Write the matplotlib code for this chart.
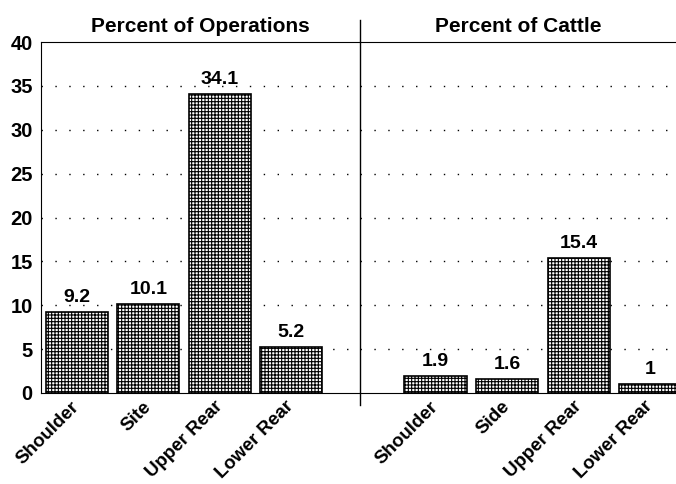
import matplotlib
matplotlib.use("Agg")
import matplotlib.pyplot as plt
from matplotlib.lines import Line2D
from matplotlib.transforms import ScaledTranslation

# data
ops_labels = ["Shoulder", "Site", "Upper Rear", "Lower Rear"]
ops_values = [9.2, 10.1, 34.1, 5.2]
ops_text = ["9.2", "10.1", "34.1", "5.2"]

cattle_labels = ["Shoulder", "Side", "Upper Rear", "Lower Rear"]
cattle_values = [1.9, 1.6, 15.4, 1.0]
cattle_text = ["1.9", "1.6", "15.4", "1"]

yticks = [0, 5, 10, 15, 20, 25, 30, 35, 40]

plt.rcParams['font.family'] = ['Liberation Sans', 'DejaVu Sans']
plt.rcParams['font.weight'] = 'bold'
plt.rcParams['hatch.linewidth'] = 0.8

W, H = 676, 484
fig = plt.figure(figsize=(W / 100, H / 100), dpi=100)

def px(x0, y0, x1, y1):
    return [x0 / W, 1 - y1 / H, (x1 - x0) / W, (y1 - y0) / H]

ax1 = fig.add_axes(px(41, 42, 360, 393))
ax2 = fig.add_axes(px(360, 42, 676, 393))

def draw(ax, labels, values, texts, xlim, title):
    xs = range(len(values))
    ax.bar(xs, values, width=0.87, color='white', edgecolor='black',
           hatch='+++++', linewidth=1.2, zorder=3)
    for x, v, t in zip(xs, values, texts):
        ax.text(x, v + 0.7, t, ha='center', va='bottom', fontsize=14,
                fontweight='bold', zorder=4)
    ax.set_xlim(*xlim)
    ax.set_ylim(0, 40)
    ax.set_yticks(yticks)
    ax.set_xticks(list(xs))
    ax.set_xticklabels(labels, rotation=45, ha='right', va='center',
                       rotation_mode='anchor', fontsize=13.5, fontweight='bold')
    # nudge labels a little right, as in the original
    shift = ScaledTranslation(0.05, 0, fig.dpi_scale_trans)
    for lab in ax.get_xticklabels():
        lab.set_transform(lab.get_transform() + shift)
    ax.tick_params(axis='x', length=0, pad=8)
    ax.tick_params(axis='y', length=0, labelsize=14.5, pad=6)
    for y in yticks[1:-1]:
        ax.axhline(y, color='black', linestyle=(0, (1, 9)), linewidth=1.0, zorder=1)
    ax.spines['right'].set_visible(False)
    ax.set_title(title, fontsize=15, fontweight='bold', pad=7)

draw(ax1, ops_labels, ops_values, ops_text, (-0.5, 3.96), "Percent of Operations")
draw(ax2, cattle_labels, cattle_values, cattle_text, (-1.056, 3.36), "Percent of Cattle")
ax2.spines['left'].set_visible(False)
ax2.set_yticklabels([])

# divider between the two panels
fig.add_artist(Line2D([360 / W, 360 / W], [1 - 405 / H, 1 - 20 / H],
                      color='black', linewidth=1.0))

fig.savefig("out.png", dpi=100)
